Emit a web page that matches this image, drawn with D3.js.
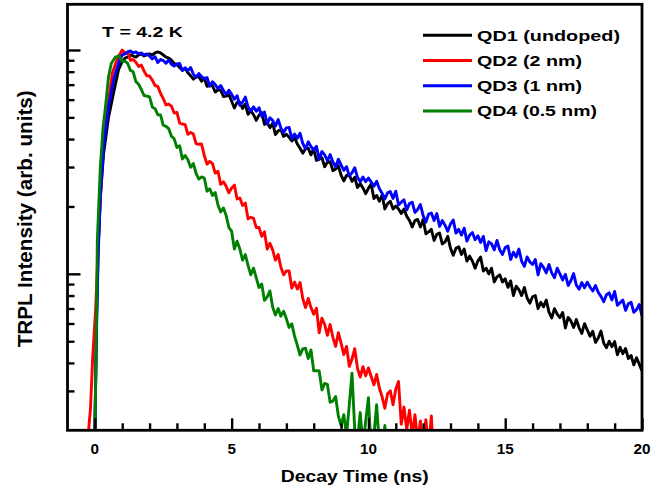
<!DOCTYPE html>
<html><head><meta charset="utf-8">
<script src="https://cdn.jsdelivr.net/npm/d3@7"></script>
<style>html,body{margin:0;padding:0;background:#fff}svg{display:block}</style>
</head><body>
<script>
// ---------- data ----------
const seriesNames = ["QD1 (undoped)", "QD2 (2 nm)", "QD3 (1 nm)", "QD4 (0.5 nm)"];
const seriesColors = ["#000000", "#ff0000", "#0000ff", "#008000"];
const xMajorTicks = [0, 5, 10, 15, 20];
const xMinorTicks = [1, 2, 3, 4, 6, 7, 8, 9, 11, 12, 13, 14, 16, 17, 18, 19];
const yMajorTicks = [0.1, 1];
const yMinorTicks = [0.03, 0.04, 0.05, 0.06, 0.07, 0.08, 0.09, 0.2, 0.3, 0.4, 0.5, 0.6, 0.7, 0.8, 0.9];
const DT = 0.1; // sampling step of the decay parts (ns)

// rising edges: [time ns, intensity]
const qd1Rise = [[-0.05,0.015],[0,0.02],[0.06,0.06],[0.12,0.13],[0.2,0.22],[0.32,0.345],[0.5,0.5],[0.68,0.64],[0.87,0.82],[1.0,0.89]];
const qd2Rise = [[-0.26,0.015],[-0.23,0.02],[-0.16,0.025],[-0.08,0.042],[0.03,0.07],[0.13,0.14],[0.28,0.36],[0.46,0.55],[0.64,0.79],[0.83,0.92],[1.0,1.0]];
const qd3Rise = [[-0.05,0.015],[0,0.02],[0.06,0.055],[0.12,0.12],[0.2,0.22],[0.32,0.37],[0.5,0.56],[0.7,0.75],[0.9,0.9],[1.0,0.95]];
const qd4Rise = [[-0.02,0.015],[0,0.018],[0.05,0.05],[0.09,0.14],[0.2,0.3],[0.3,0.45],[0.39,0.56],[0.5,0.76],[0.6,0.87],[0.75,0.93],[0.88,0.94]];

// decays sampled every DT starting at the given time
const qd1Start = 1.1;
const qd1Decay = [
  0.92,0.93,0.95,0.94,0.93,0.95,0.96,0.94,0.95,0.96,
  0.95,0.97,0.98,0.97,0.95,0.93,0.92,0.90,0.87,0.86,
  0.836,0.812,0.828,0.792,0.768,0.741,0.760,0.759,0.725,0.749,
  0.689,0.691,0.692,0.649,0.664,0.661,0.620,0.622,0.632,0.591,
  0.551,0.583,0.585,0.548,0.573,0.516,0.536,0.514,0.485,0.512,
  0.525,0.465,0.474,0.450,0.470,0.419,0.435,0.440,0.411,0.420,
  0.408,0.392,0.406,0.380,0.364,0.346,0.362,0.364,0.340,0.362,
  0.321,0.325,0.330,0.301,0.315,0.317,0.289,0.294,0.304,0.276,
  0.260,0.275,0.277,0.259,0.270,0.243,0.253,0.242,0.228,0.241,
  0.252,0.217,0.224,0.211,0.225,0.195,0.206,0.211,0.195,0.201,
  0.195,0.186,0.195,0.181,0.173,0.162,0.173,0.175,0.162,0.175,
  0.151,0.154,0.158,0.141,0.150,0.152,0.136,0.139,0.147,0.130,
  0.121,0.130,0.132,0.122,0.129,0.114,0.120,0.114,0.106,0.114,
  0.119,0.103,0.106,0.100,0.106,0.092,0.097,0.099,0.092,0.095,
  0.087,0.093,0.080,0.088,0.085,0.080,0.087,0.078,0.074,0.079,
  0.080,0.070,0.0746,0.0712,0.0764,0.0674,0.0635,0.0699,0.0661,0.0637,
  0.0672,0.0573,0.0639,0.0616,0.0576,0.0625,0.0574,0.0542,0.0599,0.0561,
  0.0526,0.0554,0.0494,0.0517,0.0555,0.0491,0.0468,0.050,0.0473,0.0498,
  0.0435,0.047,0.044,0.0464,0.0418,0.0432,0.0392,0.0422,0.0395,0.0368];
const qd2Start = 1.1;
const qd2Decay = [
  0.968,0.979,0.900,0.907,0.882,0.843,0.856,0.804,0.767,0.766,
  0.733,0.694,0.688,0.641,0.606,0.569,0.573,0.561,0.523,0.526,
  0.471,0.467,0.464,0.420,0.428,0.421,0.382,0.379,0.380,0.338,
  0.309,0.318,0.311,0.282,0.287,0.251,0.258,0.246,0.230,0.242,
  0.249,0.216,0.218,0.202,0.207,0.176,0.179,0.177,0.161,0.161,
  0.147,0.154,0.129,0.137,0.128,0.115,0.122,0.107,0.099,0.103,
  0.103,0.0863,0.0919,0.0855,0.0914,0.0776,0.0707,0.0776,0.0707,0.066,
  0.0702,0.0545,0.0634,0.0594,0.0531,0.0594,0.052,0.0474,0.0546,0.049,
  0.0436,0.0474,0.0386,0.0416,0.0463,0.0378,0.0346,0.0385,0.035,0.038,
  0.0348,0.0319,0.0355,0.0309,0.0282,0.0251,0.0291,0.030,0.026,0.0306,
  0.033,0.0213,0.0254,0.0202,0.0246,0.019,0.0235,0.0178,0.022,0.017,
  0.0223,0.0165,0.0232,0.013];
const qd3Start = 1.1;
const qd3Decay = [
  0.96,0.98,0.99,0.97,0.98,0.96,0.97,0.95,0.96,0.94,
  0.912,0.933,0.879,0.907,0.897,0.872,0.903,0.864,0.847,0.867,
  0.871,0.810,0.832,0.809,0.835,0.780,0.754,0.785,0.760,0.742,
  0.754,0.690,0.721,0.701,0.672,0.694,0.659,0.634,0.661,0.634,
  0.602,0.625,0.566,0.585,0.616,0.556,0.533,0.558,0.532,0.552,
  0.505,0.528,0.467,0.498,0.485,0.457,0.489,0.448,0.428,0.449,
  0.451,0.402,0.421,0.403,0.425,0.382,0.362,0.389,0.370,0.357,
  0.371,0.325,0.352,0.340,0.320,0.341,0.316,0.300,0.325,0.307,
  0.290,0.301,0.273,0.283,0.298,0.270,0.258,0.271,0.258,0.268,
  0.257,0.246,0.259,0.240,0.229,0.216,0.230,0.233,0.217,0.234,
  0.203,0.209,0.214,0.193,0.206,0.209,0.188,0.194,0.204,0.182,
  0.170,0.185,0.187,0.173,0.186,0.163,0.173,0.165,0.155,0.167,
  0.174,0.152,0.158,0.149,0.160,0.140,0.149,0.153,0.142,0.148,
  0.138,0.147,0.127,0.139,0.136,0.128,0.141,0.128,0.122,0.131,
  0.133,0.116,0.125,0.119,0.129,0.114,0.108,0.119,0.113,0.110,
  0.116,0.099,0.111,0.107,0.101,0.110,0.101,0.096,0.106,0.100,
  0.0939,0.0994,0.0887,0.0932,0.1003,0.0891,0.0853,0.0914,0.0867,0.0917,
  0.0873,0.0838,0.0887,0.0827,0.0793,0.0751,0.0807,0.0822,0.0765,0.0834,
  0.0724,0.0744,0.0763,0.0687,0.0735,0.0747,0.0673,0.0692,0.0730,0.0648];
const qd4Start = 1.0;
const qd4Decay = [
  0.891,0.892,0.871,0.811,0.799,0.722,0.703,0.665,0.626,0.622,
  0.617,0.556,0.547,0.514,0.513,0.461,0.456,0.445,0.412,0.401,
  0.367,0.373,0.326,0.338,0.323,0.299,0.311,0.281,0.265,0.271,
  0.268,0.234,0.240,0.224,0.231,0.203,0.189,0.197,0.182,0.161,
  0.155,0.129,0.140,0.129,0.115,0.122,0.109,0.099,0.106,0.096,
  0.0868,0.0901,0.0761,0.079,0.0839,0.0709,0.0655,0.070,0.0647,0.0681,
  0.0631,0.0576,0.0598,0.0527,0.048,0.0434,0.0462,0.0465,0.0418,0.0457,
  0.0369,0.0369,0.0368,0.0303,0.0324,0.0321,0.0267,0.027,0.0283,0.0232,
  0.021,0.0235,0.019,0.026,0.036,0.020,0.018,0.024,0.017,0.022,
  0.028,0.016,0.019,0.026,0.017,0.015,0.021,0.014,0.018,0.013,
  0.011];

// ---------- build ----------
function build(rise, start, decay) {
  return rise.map(d => ({t: d[0], v: d[1]}))
    .concat(decay.map((v, i) => ({t: +(start + i * DT).toFixed(2), v})));
}
const series = [
  build(qd1Rise, qd1Start, qd1Decay),
  build(qd2Rise, qd2Start, qd2Decay),
  build(qd3Rise, qd3Start, qd3Decay),
  build(qd4Rise, qd4Start, qd4Decay)
];

const W = 652, H = 494;
const L = 67.5, R = 642, T = 4.3, B = 430.3;
const FONT = "Arial, 'Liberation Sans', sans-serif";

const svg = d3.select("body").append("svg").attr("width", W).attr("height", H);
svg.append("rect").attr("width", W).attr("height", H).attr("fill", "#fff");

const x = d3.scaleLinear().domain([-1, 20]).range([L, R]);
const y = d3.scaleLog().domain([0.02, 1.6]).range([B, T]);

svg.append("defs").append("clipPath").attr("id", "clip")
  .append("rect").attr("x", L).attr("y", T).attr("width", R - L).attr("height", B - T);

const line = d3.line().x(d => x(d.t)).y(d => y(Math.max(d.v, 0.005)));

const gLines = svg.append("g").attr("clip-path", "url(#clip)");
series.forEach((s, i) => {
  gLines.append("path").datum(s).attr("d", line)
    .attr("fill", "none").attr("stroke", seriesColors[i])
    .attr("stroke-width", 2.9).attr("stroke-linejoin", "round");
});

// axes (ticks pointing inward)
function styleAxis(g) {
  g.select(".domain").remove();
  g.selectAll(".tick line").attr("stroke", "#000").attr("stroke-width", 2.4);
}
svg.append("g").attr("transform", `translate(0,${B})`)
  .call(d3.axisBottom(x).tickValues(xMinorTicks).tickSize(-7).tickFormat(""))
  .call(styleAxis);
svg.append("g").attr("transform", `translate(0,${B})`)
  .call(d3.axisBottom(x).tickValues(xMajorTicks).tickSize(-12).tickFormat(""))
  .call(styleAxis);
svg.append("g").attr("transform", `translate(${L},0)`)
  .call(d3.axisLeft(y).tickValues(yMinorTicks).tickSize(-7).tickFormat(""))
  .call(styleAxis);
svg.append("g").attr("transform", `translate(${L},0)`)
  .call(d3.axisLeft(y).tickValues(yMajorTicks).tickSize(-13).tickFormat(""))
  .call(styleAxis);

// frame
svg.append("rect").attr("x", L).attr("y", T).attr("width", R - L).attr("height", B - T)
  .attr("fill", "none").attr("stroke", "#000").attr("stroke-width", 2.8);

function txt(s, px, py, size, len, anchor) {
  const t = svg.append("text").attr("x", px).attr("y", py).text(s)
    .attr("font-family", FONT).attr("font-weight", "bold").attr("font-size", size)
    .attr("fill", "#000").attr("text-anchor", anchor || "start");
  if (len) t.attr("textLength", len).attr("lengthAdjust", "spacingAndGlyphs");
  return t;
}

// x tick labels
xMajorTicks.forEach(v => {
  const s = String(v);
  txt(s, x(v), 454, 14, s.length * 8.5, "middle");
});

// axis titles
txt("Decay Time (ns)", (L + R) / 2, 481.5, 16.5, 148, "middle");
txt("TRPL Intensity (arb. units)", 0, 0, 21, 257, "middle")
  .attr("transform", `translate(31.5,${(T + B) / 2 + 1.5}) rotate(-90)`);

// annotation
txt("T = 4.2 K", 102, 36.7, 15, 81);

// legend
const legendLens = [143, 105, 105, 120];
seriesNames.forEach((n, i) => {
  const by = 40.6 + i * 25.2;
  svg.append("line").attr("x1", 423).attr("x2", 472).attr("y1", by - 5.3).attr("y2", by - 5.3)
    .attr("stroke", seriesColors[i]).attr("stroke-width", 3);
  txt(n, 477, by, 15, legendLens[i]);
});
</script>
</body></html>
